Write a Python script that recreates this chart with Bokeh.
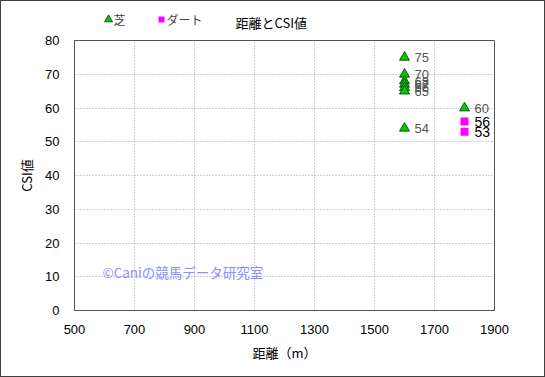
from bokeh.plotting import figure
from bokeh.models import FixedTicker, Range1d, Label, ColumnDataSource
from bokeh.layouts import column
from bokeh.core.properties import value
from bokeh.embed import file_html
from bokeh.resources import INLINE

# data
turf_dist = [1600, 1600, 1600, 1600, 1600, 1600, 1600, 1800]
turf_csi = [75, 70, 68, 67, 66, 65, 54, 60]
dirt_dist = [1800, 1800]
dirt_csi = [56, 53]
x_ticks = [500, 700, 900, 1100, 1300, 1500, 1700, 1900]
y_ticks = [0, 10, 20, 30, 40, 50, 60, 70, 80]
title = "距離とCSI値"
x_label = "距離（m）"
y_label = "CSI値"
series_names = ["芝", "ダート"]
watermark = "©Caniの競馬データ研究室"

JP = "Noto Sans CJK JP"
NUM = "Liberation Sans"

TURF_STYLE = dict(marker="triangle", fill_color="#00cc00", line_color="#003300", line_width=0.8)
DIRT_STYLE = dict(marker="square", fill_color="#ff00ff", line_color=None)

# ---- header strip: title + legend (543 x 31 px); ranges are in canvas pixels ----
STRIP_H = 31
s = figure(width=543, height=STRIP_H, x_range=Range1d(73, 493), y_range=Range1d(0, STRIP_H),
           min_border_left=73, min_border_right=50, min_border_top=0, min_border_bottom=0,
           x_axis_type=None, y_axis_type=None, toolbar_location=None,
           output_backend="svg", title_location=None)
s.outline_line_color = None
s.background_fill_color = "white"
s.border_fill_color = "white"

def hy(page_y):
    # page y (from top) -> strip y (upwards)
    return STRIP_H + 1 - page_y

s.add_layout(Label(x=234, y=hy(22), text=title, text_font=JP, text_font_size="13px",
                   text_color="black", text_baseline="middle"))
legend_src = ColumnDataSource(dict(x=[107, 160], y=[hy(19), hy(19)]))
s.scatter(x=[107], y=[hy(19)], size=8, **TURF_STYLE)
s.scatter(x=[160], y=[hy(19)], size=6, **DIRT_STYLE)
s.add_layout(Label(x=112, y=hy(19), text=series_names[0], text_font=JP, text_font_size="12px",
                   text_color="#444444", text_baseline="middle"))
s.add_layout(Label(x=165, y=hy(19), text=series_names[1], text_font=JP, text_font_size="12px",
                   text_color="#444444", text_baseline="middle"))

# ---- main chart (543 x 344 px) ----
p = figure(frame_width=420, frame_height=270, output_backend="svg", toolbar_location=None,
           min_border_left=73, min_border_right=50, min_border_top=8, min_border_bottom=66,
           x_range=Range1d(500, 1900), y_range=Range1d(0, 80), title_location=None)
p.background_fill_color = "white"
p.border_fill_color = "white"
p.outline_line_color = "#555555"
p.outline_line_width = 1

for ax, ticks in ((p.xaxis, x_ticks), (p.yaxis, y_ticks)):
    ax.ticker = FixedTicker(ticks=ticks)
    ax.major_tick_line_color = None
    ax.minor_tick_line_color = None
    ax.axis_line_color = "#555555"
    ax.major_label_text_font = NUM
    ax.major_label_text_font_size = "13px"
    ax.major_label_text_color = "black"
    ax.axis_label_text_font = JP
    ax.axis_label_text_font_size = "13px"
    ax.axis_label_text_font_style = "normal"
    ax.axis_label_text_color = "black"

p.xaxis.axis_label = x_label
p.yaxis.axis_label = y_label
p.xaxis.major_label_standoff = 8
p.yaxis.major_label_standoff = 9
p.xaxis.axis_label_standoff = 6
p.yaxis.axis_label_standoff = 6

for g in (p.xgrid, p.ygrid):
    g.grid_line_color = "#a0a0a0"
    g.grid_line_dash = "1 2"
    g.grid_line_width = 1
p.xgrid.ticker = FixedTicker(ticks=x_ticks)
p.ygrid.ticker = FixedTicker(ticks=y_ticks)

turf = ColumnDataSource(dict(x=turf_dist, y=turf_csi, t=[str(v) for v in turf_csi]))
dirt = ColumnDataSource(dict(x=dirt_dist, y=dirt_csi, t=[str(v) for v in dirt_csi]))

p.scatter("x", "y", source=turf, size=10, **TURF_STYLE)
p.scatter("x", "y", source=dirt, size=8, **DIRT_STYLE)
p.text("x", "y", text="t", source=turf, x_offset=10, text_baseline="middle",
       text_font=value(NUM), text_font_size="13px", text_color="#555555")
p.text("x", "y", text="t", source=dirt, x_offset=10, text_baseline="middle",
       text_font=value(NUM), text_font_size="14px", text_color="black")

# watermark
p.add_layout(Label(x=593, y=11.3, text=watermark, text_font=JP, text_font_size="13.5px",
                   text_color="#8c8cff", text_baseline="middle"))

page = column(s, p, spacing=0)
page.styles = {"border": "1px solid #404040"}

open("out.html", "w").write(file_html(page, INLINE))
